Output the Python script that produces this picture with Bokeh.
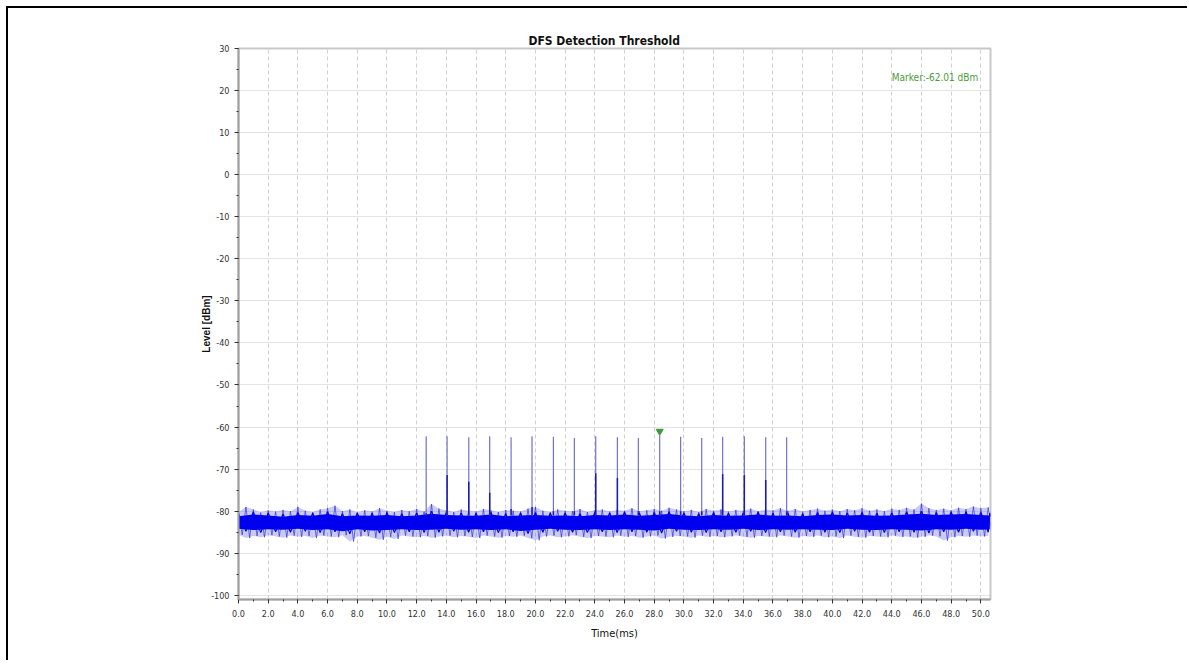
from bokeh.plotting import figure
from bokeh.models import FixedTicker, PrintfTickFormatter, Label, Range1d
from bokeh.embed import file_html
from bokeh.resources import INLINE

# ---------------- data ----------------
title_text = "DFS Detection Threshold"
x_label = "Time(ms)"
y_label = "Level [dBm]"
marker_text = "Marker:-62.01 dBm"

x_ticks = [0, 2, 4, 6, 8, 10, 12, 14, 16, 18, 20, 22, 24, 26, 28, 30, 32, 34, 36, 38,
           40, 42, 44, 46, 48, 50]
y_ticks = [-100, -90, -80, -70, -60, -50, -40, -30, -20, -10, 0, 10, 20, 30]

# noise floor: upper / lower excursions, read every 0.5 ms
noise_t = [i * 0.5 for i in range(102)]
noise_hi = [-80.2, -79.0, -79.6, -80.3, -79.8, -80.1, -79.7, -80.0, -79.0, -79.9,
            -80.2, -79.6, -79.3, -78.7, -80.0, -79.6, -80.3, -79.8, -80.1, -79.3,
            -79.9, -80.2, -79.7, -80.0, -79.5, -80.1, -78.3, -79.4, -79.8, -80.2,
            -79.6, -79.9, -80.1, -79.5, -79.8, -80.2, -79.7, -79.9, -80.1, -79.4,
            -79.0, -79.9, -80.2, -79.6, -79.9, -80.0, -79.5, -80.2, -79.8, -79.6,
            -80.1, -79.7, -79.9, -79.3, -80.0, -79.8, -79.5, -79.9, -79.2, -79.6,
            -80.0, -79.7, -80.2, -79.5, -79.9, -79.6, -80.1, -79.7, -79.9, -79.4,
            -80.0, -79.6, -79.8, -79.3, -79.9, -79.5, -80.1, -79.7, -79.4, -79.9,
            -79.6, -80.0, -79.5, -79.8, -79.3, -79.9, -79.6, -80.0, -79.4, -79.7,
            -79.2, -79.6, -78.2, -79.3, -79.7, -79.4, -79.8, -79.2, -79.5, -78.9,
            -79.3, -79.1]
noise_lo = [-85.6, -86.4, -85.9, -86.2, -85.7, -86.0, -86.3, -85.8, -86.1, -85.9,
            -86.4, -85.8, -86.0, -86.2, -85.7, -87.2, -86.0, -85.9, -86.3, -86.8,
            -86.1, -86.6, -85.8, -86.0, -86.2, -85.9, -86.3, -86.0, -85.8, -86.2,
            -85.9, -86.1, -86.4, -85.8, -86.0, -86.3, -85.9, -86.1, -85.8, -86.4,
            -86.9, -86.0, -85.8, -86.2, -86.0, -85.7, -86.1, -86.4, -85.9, -86.0,
            -86.2, -85.8, -86.1, -85.9, -86.3, -86.0, -85.8, -86.5, -86.1, -85.9,
            -86.0, -86.3, -85.8, -86.1, -85.9, -86.2, -86.0, -85.8, -86.1, -86.3,
            -85.9, -86.0, -86.2, -85.8, -86.0, -86.3, -85.9, -86.1, -85.8, -86.2,
            -86.0, -86.4, -85.8, -86.1, -86.3, -85.9, -86.0, -86.2, -85.8, -86.1,
            -86.0, -86.3, -86.1, -85.8, -86.0, -87.0, -86.2, -85.9, -86.1, -85.8,
            -86.0, -85.9]

# dense core of the noise floor, read every 1 ms
core_t = [0, 1, 2, 3, 4, 5, 6, 7, 8, 9, 10, 11, 12, 13, 14, 15, 16, 17, 18, 19, 20,
          21, 22, 23, 24, 25, 26, 27, 28, 29, 30, 31, 32, 33, 34, 35, 36, 37, 38, 39,
          40, 41, 42, 43, 44, 45, 46, 47, 48, 49, 50, 50.6]
core_hi = [-81.2, -80.8, -81.0, -81.3, -80.9, -81.1, -80.7, -81.2, -81.0, -81.1,
           -80.9, -81.2, -81.0, -80.6, -80.9, -81.0, -81.1, -80.8, -81.2, -81.0,
           -80.9, -81.1, -81.0, -81.2, -80.9, -81.0, -80.8, -81.1, -80.9, -80.7,
           -81.0, -81.2, -80.9, -81.1, -81.0, -80.8, -81.1, -81.0, -81.2, -80.9,
           -80.8, -81.0, -80.9, -81.1, -81.0, -80.8, -80.6, -80.9, -80.8, -80.7,
           -80.9, -81.0]
core_lo = [-84.2, -84.5, -84.3, -84.4, -84.2, -84.5, -84.3, -84.8, -84.3, -84.6,
           -84.5, -84.3, -84.5, -84.4, -84.2, -84.4, -84.3, -84.5, -84.3, -84.7,
           -84.4, -84.2, -84.4, -84.5, -84.3, -84.5, -84.3, -84.4, -84.6, -84.2,
           -84.4, -84.5, -84.3, -84.4, -84.2, -84.5, -84.3, -84.4, -84.3, -84.4,
           -84.5, -84.2, -84.4, -84.5, -84.3, -84.4, -84.6, -84.3, -84.4, -84.2,
           -84.4, -84.3]

# radar pulses
pulse_t = [12.64, 14.05, 15.51, 16.92, 18.36, 19.77, 21.21, 22.62, 24.06, 25.52,
           26.93, 28.37, 29.78, 31.20, 32.61, 34.07, 35.51, 36.92]
pulse_peak = [-62.2, -62.2, -62.4, -62.2, -62.4, -62.2, -62.3, -62.6, -62.2, -62.4,
              -62.6, -62.0, -62.3, -62.6, -62.3, -62.2, -62.4, -62.4]
pulse_mid = [-80.5, -71.4, -73.0, -75.6, -79.5, -79.0, -80.0, -80.0, -71.0, -72.1,
             -80.0, -80.0, -80.0, -80.0, -71.2, -71.4, -72.6, -80.0]
pulse_base = -81.0

marker_t = 28.37
marker_level = -62.01

# ---------------- figure ----------------
FONT = "Liberation Sans Narrow, DejaVu Sans Condensed, Liberation Sans, sans-serif"
W, H = 1181, 654
p = figure(width=W, height=H, output_backend="svg", toolbar_location=None,
           x_range=Range1d(0, 50.65), y_range=Range1d(-101, 30),
           min_border_left=230, min_border_right=W - 982, min_border_top=40,
           min_border_bottom=H - 591)
p.styles = {"margin-left": "6px", "margin-top": "6px",
            "border-style": "solid none none solid",
            "border-width": "2px 0px 0px 2px",
            "border-color": "black"}

p.title.text = title_text
p.title.align = "left"
p.title.offset = 290
p.title.text_font = FONT
p.title.text_font_size = "12px"
p.title.text_font_style = "bold"
p.title.text_color = "#111111"
p.title.standoff = 2

p.outline_line_color = "#c8c8c8"
p.outline_line_width = 2

# grid
p.xgrid.ticker = FixedTicker(ticks=x_ticks)
p.ygrid.ticker = FixedTicker(ticks=y_ticks)
p.xgrid.grid_line_color = "#d0d0d0"
p.xgrid.grid_line_dash = "4 3"
p.ygrid.grid_line_color = "#c8c8c8"
p.ygrid.grid_line_dash = "1 1"

# axes
p.xaxis.ticker = FixedTicker(ticks=x_ticks, minor_ticks=list(range(0, 51)))
p.xaxis.formatter = PrintfTickFormatter(format="%.1f")
p.yaxis.ticker = FixedTicker(ticks=y_ticks, minor_ticks=list(range(-100, 31, 5)))
p.yaxis.formatter = PrintfTickFormatter(format="%d")
for ax in (p.xaxis, p.yaxis):
    ax.axis_line_color = "#a0a0a0"
    ax.axis_line_width = 2
    ax.major_tick_line_color = "#333333"
    ax.minor_tick_line_color = "#333333"
    ax.major_tick_out = 4
    ax.major_tick_in = 0
    ax.minor_tick_out = 2
    ax.minor_tick_in = 0
    ax.major_label_text_font = FONT
    ax.major_label_text_font_size = "9px"
    ax.major_label_text_color = "#333333"
    ax.axis_label_text_color = "#111111"
p.xaxis.axis_label = x_label
p.xaxis.axis_label_text_font = FONT
p.xaxis.axis_label_text_font_size = "11px"
p.xaxis.axis_label_text_font_style = "normal"
p.xaxis.major_label_standoff = 6
p.xaxis.axis_label_standoff = 7
p.yaxis.axis_label = y_label
p.yaxis.axis_label_text_font = "Liberation Sans"
p.yaxis.axis_label_text_font_size = "10px"
p.yaxis.axis_label_text_font_style = "bold"
p.yaxis.major_label_standoff = 5
p.yaxis.axis_label_standoff = -4

# noise floor
p.varea(x=noise_t, y1=noise_lo, y2=noise_hi, fill_color="#5050d8", fill_alpha=0.3)
zig_t, zig_v = [], []
for t, hi, lo in zip(noise_t, noise_hi, noise_lo):
    zig_t += [t, t + 0.25]
    zig_v += [hi, lo]
p.line(x=zig_t, y=zig_v, line_color="#3030d8", line_width=0.8, line_alpha=0.85)
p.varea(x=core_t, y1=core_lo, y2=core_hi, fill_color="#0000f0", fill_alpha=1.0)
core_zt, core_zv = [], []
for t, hi, lo in zip(core_t, core_hi, core_lo):
    core_zt += [t, t + 0.5]
    core_zv += [hi + 0.6, lo - 0.6]
p.line(x=core_zt, y=core_zv, line_color="#0000e8", line_width=1.2)

# pulses
p.segment(x0=pulse_t, y0=[pulse_base] * len(pulse_t), x1=pulse_t, y1=pulse_peak,
          line_color="#7070d0", line_width=1.2)
p.segment(x0=pulse_t, y0=[pulse_base] * len(pulse_t), x1=pulse_t, y1=pulse_mid,
          line_color="#1a1ab0", line_width=1.5)

# marker
p.scatter(x=[marker_t], y=[marker_level + 1.0], marker="inverted_triangle",
          size=7, fill_color="#3c9a3c", line_color="#3c9a3c")
p.add_layout(Label(x=44.0, y=23.1, text=marker_text, text_font=FONT,
                   text_font_size="10px", text_color="#4c9a3c",
                   text_baseline="middle", text_align="left"))

open("out.html", "w").write(file_html(p, INLINE))
